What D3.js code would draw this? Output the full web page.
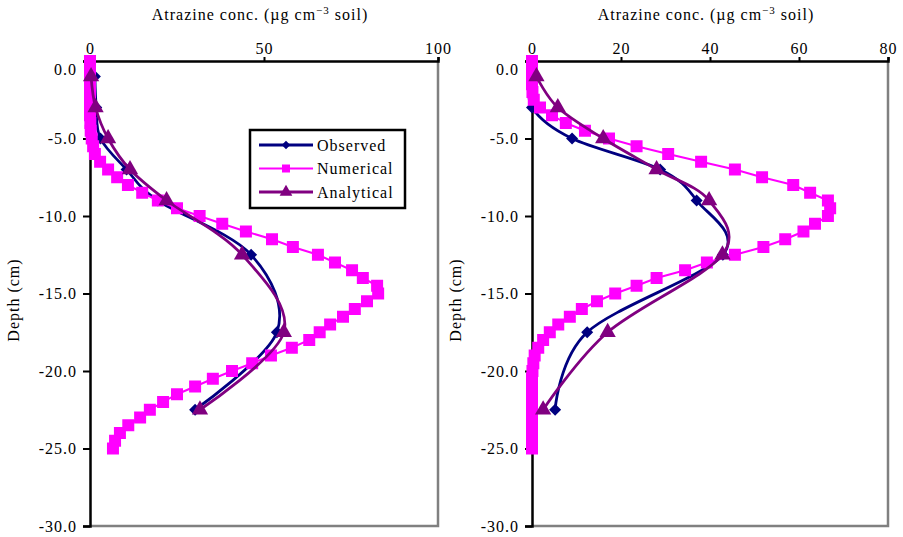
<!DOCTYPE html>
<html>
<head>
<meta charset="utf-8">
<script src="https://cdn.jsdelivr.net/npm/d3@7"></script>
<style>
  body { margin: 0; background: #fff; }
  svg { display: block; font-family: "Liberation Serif", "Times New Roman", serif; }
  svg text { font-family: "Liberation Serif", "Times New Roman", serif; letter-spacing: 1px; }
</style>
</head>
<body>
<svg id="chart" width="903" height="537"></svg>
<script>
// depths of the sampled points (cm)
var depthObs = [-1, -3, -5, -7, -9, -12.5, -17.5, -22.5];
var depthNum = [0, -0.5, -1, -1.5, -2, -2.5, -3, -3.5, -4, -4.5, -5, -5.5, -6, -6.5, -7, -7.5,
  -8, -8.5, -9, -9.5, -10, -10.5, -11, -11.5, -12, -12.5, -13, -13.5, -14, -14.5, -15, -15.5,
  -16, -16.5, -17, -17.5, -18, -18.5, -19, -19.5, -20, -20.5, -21, -21.5, -22, -22.5, -23,
  -23.5, -24, -24.5, -25];

// left panel
var obsLeft = [1.4, 1.8, 3, 10.5, 19.5, 46.3, 53.7, 30.2];
var anaLeft = [0.3, 1.6, 5.2, 11.5, 22, 43.7, 55.7, 31.6];
var numLeft = [0, 0, 0, 0, 0, 0, 0, 0, 0.1, 0.2, 0.5, 0.9, 1.4, 2.9, 5.2, 7.8,
  10.9, 15, 19.5, 25, 31.5, 38, 44.8, 52.3, 58.3, 65.5, 70.4, 75.3, 78.4, 82.5, 82.8, 79.6,
  76.1, 72.7, 69, 66, 63, 58, 52, 46.6, 40.8, 35.3, 30.2, 25, 21, 17.2, 14.4,
  11, 8.6, 7.2, 6.6];

// right panel
var obsRight = [0, 0, 9, 28.8, 37, 42.9, 12.4, 5.2];
var anaRight = [1, 5.8, 16, 28, 39.8, 42.8, 17, 2.5];
var numRight = [0, 0, 0, 0, 0.1, 0.4, 1.8, 4.5, 7.6, 11.9, 17.3, 23.5, 30.6, 38, 45.6, 51.7,
  58.7, 62.5, 66.5, 67, 66.5, 63.6, 61, 56.9, 52, 45.6, 39.3, 34.4, 28, 23.5, 18.7, 14.6,
  11.2, 8.5, 5.9, 4, 2.5, 1.4, 0.6, 0.3, 0.1, 0, 0, 0, 0, 0, 0,
  0, 0, 0, 0];

var ticksLeft = [0, 50, 100];
var ticksRight = [0, 20, 40, 60, 80];
var depthTicks = [0, -5, -10, -15, -20, -25, -30];
var seriesNames = ["Observed", "Numerical", "Analytical"];

var colObs = "#000080", colNum = "#ff00ff", colAna = "#800080";

var svg = d3.select("#chart");
var plotTop = 61, plotBottom = 526;

var yScale = d3.scaleLinear().domain([0, -30]).range([plotTop, plotBottom]);

var diamond = d3.symbol().type(d3.symbolSquare).size(72);
var square = d3.symbol().type(d3.symbolSquare).size(144);
var triangle = d3.symbol().type(d3.symbolTriangle).size(115);

function panel(x0, x1, maxV, xticks, obs, ana, num) {
    var xScale = d3.scaleLinear().domain([0, maxV]).range([x0, x1]);
    var g = svg.append("g");

    // plot border (right + bottom grey)
    g.append("path")
        .attr("d", "M" + x1 + "," + plotTop + "V" + plotBottom + "H" + x0)
        .attr("fill", "none").attr("stroke", "#808080").attr("stroke-width", 2.5);

    // x axis on top
    var xAxis = d3.axisTop(xScale).tickValues(xticks).tickSize(4).tickPadding(3)
        .tickFormat(d3.format("d"));
    var gx = g.append("g").attr("transform", "translate(0," + plotTop + ")").call(xAxis);
    gx.select(".domain").attr("stroke-width", 2.5);
    gx.selectAll(".tick line").attr("stroke-width", 2);
    gx.selectAll("text").attr("font-size", 16).attr("fill", "#000");

    // y axis
    var yAxis = d3.axisLeft(yScale).tickValues(depthTicks).tickSize(7).tickPadding(6)
        .tickFormat(function(d) { return d.toFixed(1); });
    var gy = g.append("g").attr("transform", "translate(" + x0 + ",0)").call(yAxis);
    gy.select(".domain").attr("stroke-width", 2.5);
    gy.selectAll(".tick line").attr("stroke-width", 2);
    gy.selectAll("text").attr("font-size", 16).attr("fill", "#000")
        .attr("dy", function(d) { return d === 0 ? "0.85em" : "0.32em"; });

    // titles
    var t = g.append("text")
        .attr("x", (x0 + x1) / 2 - 4).attr("y", 20)
        .attr("text-anchor", "middle").attr("font-size", 16);
    t.append("tspan").text("Atrazine conc. (\u00b5g cm");
    t.append("tspan").attr("dy", -6).attr("font-size", 11).text("\u22123");
    t.append("tspan").attr("dy", 6).text(" soil)");

    g.append("text")
        .attr("transform", "translate(" + (x0 - 71) + ",300) rotate(-90)")
        .attr("text-anchor", "middle").attr("font-size", 16)
        .text("Depth (cm)");

    var smooth = d3.line().curve(d3.curveCatmullRom.alpha(0))
        .x(function(d) { return xScale(d[0]); }).y(function(d) { return yScale(d[1]); });
    var straight = d3.line()
        .x(function(d) { return xScale(d[0]); }).y(function(d) { return yScale(d[1]); });

    var obsPts = obs.map(function(v, i) { return [v, depthObs[i]]; });
    var anaPts = ana.map(function(v, i) { return [v, depthObs[i]]; });
    var numPts = num.map(function(v, i) { return [v, depthNum[i]]; });

    // observed
    g.append("path").attr("d", smooth(obsPts))
        .attr("fill", "none").attr("stroke", colObs).attr("stroke-width", 2.8);
    g.selectAll(".obs").data(obsPts).join("path").attr("class", "obs")
        .attr("d", diamond)
        .attr("transform", function(d) { return "translate(" + xScale(d[0]) + "," + yScale(d[1]) + ") rotate(45)"; })
        .attr("fill", colObs);

    // numerical
    g.append("path").attr("d", straight(numPts))
        .attr("fill", "none").attr("stroke", colNum).attr("stroke-width", 2);
    g.selectAll(".num").data(numPts).join("path").attr("class", "num")
        .attr("d", square)
        .attr("transform", function(d) { return "translate(" + xScale(d[0]) + "," + yScale(d[1]) + ")"; })
        .attr("fill", colNum);

    // analytical
    g.append("path").attr("d", smooth(anaPts))
        .attr("fill", "none").attr("stroke", colAna).attr("stroke-width", 2.8);
    g.selectAll(".ana").data(anaPts).join("path").attr("class", "ana")
        .attr("d", triangle)
        .attr("transform", function(d) { return "translate(" + xScale(d[0]) + "," + yScale(d[1]) + ")"; })
        .attr("fill", colAna);
}

panel(90, 438, 100, ticksLeft, obsLeft, anaLeft, numLeft);
panel(532, 888, 80, ticksRight, obsRight, anaRight, numRight);

// legend
var leg = svg.append("g").attr("transform", "translate(250,130)");
leg.append("rect").attr("width", 155).attr("height", 78)
    .attr("fill", "#fff").attr("stroke", "#000").attr("stroke-width", 2.5);
var legCols = [colObs, colNum, colAna];
var legSyms = [d3.symbol().type(d3.symbolSquare).size(36), d3.symbol().type(d3.symbolSquare).size(64),
    d3.symbol().type(d3.symbolTriangle).size(70)];
seriesNames.forEach(function(name, i) {
    var yy = 15 + i * 23.5;
    leg.append("line").attr("x1", 9).attr("x2", 63).attr("y1", yy).attr("y2", yy)
        .attr("stroke", legCols[i]).attr("stroke-width", i === 1 ? 2 : 2.8);
    leg.append("path").attr("d", legSyms[i]).attr("fill", legCols[i])
        .attr("transform", "translate(36," + yy + ")" + (i === 0 ? " rotate(45)" : ""));
    leg.append("text").attr("x", 67).attr("y", yy).attr("dy", "0.35em")
        .attr("font-size", 16).text(name);
});
</script>
</body>
</html>
